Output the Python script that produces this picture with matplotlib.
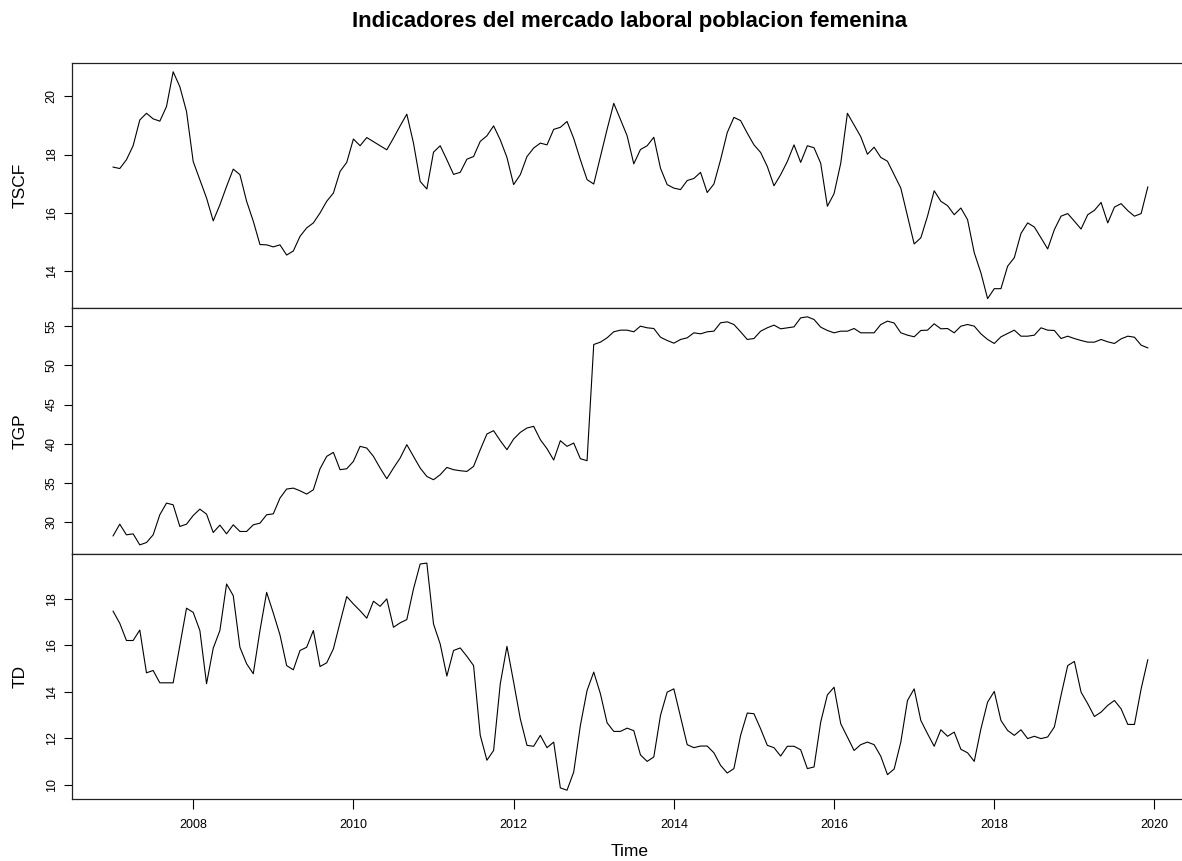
import numpy as np
import matplotlib
matplotlib.use("Agg")
import matplotlib.pyplot as plt
from matplotlib.ticker import MultipleLocator

plt.rcParams['font.family'] = ['Liberation Sans', 'DejaVu Sans']

# Monthly series, Jan 2007 - Dec 2019
start_year = 2007
freq = 12

tscf = [17.57, 17.52, 17.82, 18.30, 19.18, 19.41, 19.22, 19.14, 19.64, 20.83, 20.32, 19.47,
        17.76, 17.14, 16.51, 15.73, 16.28, 16.91, 17.50, 17.31, 16.40, 15.72, 14.92, 14.91,
        14.84, 14.91, 14.56, 14.70, 15.20, 15.49, 15.66, 16.00, 16.40, 16.68, 17.42, 17.73,
        18.53, 18.30, 18.58, 18.44, 18.30, 18.16, 18.56, 18.98, 19.38, 18.39, 17.08, 16.82,
        18.08, 18.30, 17.82, 17.32, 17.39, 17.84, 17.93, 18.45, 18.64, 18.98, 18.50, 17.90,
        16.97, 17.31, 17.93, 18.22, 18.39, 18.33, 18.86, 18.93, 19.13, 18.55, 17.82, 17.14,
        16.99, 17.93, 18.86, 19.75, 19.20, 18.64, 17.68, 18.17, 18.30, 18.59, 17.53, 16.97,
        16.85, 16.80, 17.11, 17.18, 17.39, 16.70, 16.99, 17.82, 18.75, 19.27, 19.16, 18.73,
        18.33, 18.07, 17.59, 16.93, 17.31, 17.76, 18.33, 17.73, 18.30, 18.23, 17.70, 16.23,
        16.66, 17.70, 19.41, 19.01, 18.61, 18.01, 18.25, 17.90, 17.77, 17.31, 16.85, 15.89,
        14.94, 15.15, 15.89, 16.76, 16.40, 16.25, 15.94, 16.17, 15.77, 14.64, 13.95, 13.07,
        13.41, 13.41, 14.18, 14.47, 15.30, 15.66, 15.52, 15.15, 14.77, 15.43, 15.89, 15.98,
        15.72, 15.45, 15.94, 16.09, 16.36, 15.66, 16.20, 16.32, 16.08, 15.89, 15.98, 16.89]

tgp = [28.25, 29.74, 28.38, 28.51, 27.10, 27.40, 28.38, 30.94, 32.43, 32.21, 29.45, 29.74,
       30.85, 31.66, 31.02, 28.68, 29.62, 28.51, 29.66, 28.81, 28.81, 29.66, 29.87, 30.94,
       31.06, 33.07, 34.22, 34.34, 34.00, 33.58, 34.13, 36.81, 38.39, 38.90, 36.69, 36.81,
       37.75, 39.67, 39.45, 38.39, 36.90, 35.54, 36.90, 38.18, 39.88, 38.39, 36.90, 35.83,
       35.41, 36.05, 36.98, 36.69, 36.56, 36.47, 37.11, 39.24, 41.24, 41.67, 40.39, 39.24,
       40.60, 41.45, 42.01, 42.22, 40.52, 39.37, 37.92, 40.39, 39.67, 40.09, 38.09, 37.84,
       52.66, 52.96, 53.51, 54.28, 54.49, 54.49, 54.28, 55.00, 54.79, 54.70, 53.59, 53.17,
       52.83, 53.30, 53.51, 54.15, 54.02, 54.28, 54.36, 55.43, 55.55, 55.21, 54.28, 53.30,
       53.42, 54.36, 54.79, 55.13, 54.66, 54.79, 54.91, 56.06, 56.19, 55.85, 54.87, 54.45,
       54.15, 54.36, 54.36, 54.70, 54.15, 54.15, 54.15, 55.21, 55.64, 55.40, 54.15, 53.85,
       53.64, 54.45, 54.49, 55.30, 54.66, 54.70, 54.15, 55.00, 55.21, 55.00, 54.02, 53.30,
       52.79, 53.64, 54.06, 54.49, 53.72, 53.72, 53.85, 54.79, 54.49, 54.45, 53.42, 53.72,
       53.42, 53.17, 52.96, 52.96, 53.30, 53.00, 52.79, 53.38, 53.72, 53.59, 52.57, 52.23]

td = [17.46, 16.94, 16.20, 16.20, 16.65, 14.81, 14.91, 14.38, 14.38, 14.38, 15.98, 17.59,
      17.41, 16.63, 14.34, 15.87, 16.63, 18.63, 18.13, 15.91, 15.20, 14.77, 16.63, 18.27,
      17.38, 16.44, 15.12, 14.94, 15.77, 15.91, 16.63, 15.08, 15.24, 15.84, 16.98, 18.09,
      17.77, 17.48, 17.16, 17.89, 17.67, 17.99, 16.77, 16.96, 17.10, 18.42, 19.49, 19.53,
      16.91, 16.05, 14.67, 15.77, 15.88, 15.52, 15.12, 12.12, 11.05, 11.47, 14.34, 15.95,
      14.41, 12.83, 11.69, 11.65, 12.12, 11.59, 11.83, 9.86, 9.76, 10.54, 12.55, 14.05,
      14.84, 13.91, 12.66, 12.29, 12.29, 12.43, 12.32, 11.28, 11.00, 11.19, 12.98, 13.98,
      14.12, 12.91, 11.72, 11.59, 11.66, 11.66, 11.37, 10.83, 10.50, 10.69, 12.12, 13.08,
      13.05, 12.40, 11.69, 11.59, 11.23, 11.65, 11.65, 11.50, 10.69, 10.76, 12.69, 13.86,
      14.19, 12.62, 12.05, 11.47, 11.72, 11.83, 11.72, 11.22, 10.43, 10.67, 11.83, 13.62,
      14.12, 12.76, 12.19, 11.65, 12.36, 12.08, 12.26, 11.52, 11.37, 11.00, 12.40, 13.55,
      14.01, 12.76, 12.33, 12.12, 12.36, 11.98, 12.08, 11.98, 12.05, 12.48, 13.84, 15.12,
      15.30, 13.98, 13.48, 12.93, 13.12, 13.41, 13.62, 13.26, 12.59, 12.59, 14.12, 15.37]

series = [("TSCF", tscf, 2), ("TGP", tgp, 5), ("TD", td, 2)]
x_ticks = [2008, 2010, 2012, 2014, 2016, 2018, 2020]

t = start_year + np.arange(len(tscf)) / freq

W, H = 1182, 861
fig = plt.figure(figsize=(W / 100, H / 100), dpi=100)

# panel geometry in pixels (left, top, bottom) -- stacked like plot.ts
left_px, right_px = 71.7, 1189.2
edges = [62.7, 307.7, 554.0, 799.3]

for k, (name, vals, step) in enumerate(series):
    top, bot = edges[k], edges[k + 1]
    ax = fig.add_axes([left_px / W, 1 - bot / H, (right_px - left_px) / W, (bot - top) / H])
    ax.plot(t, vals, color='black', lw=0.8)
    ax.margins(x=0.04, y=0.04)
    ax.yaxis.set_major_locator(MultipleLocator(step))
    ax.tick_params(axis='y', length=6, width=0.8, pad=4, labelsize=9, labelrotation=90)
    for lab in ax.get_yticklabels():
        lab.set_va('center')
    ax.set_ylabel(name, fontsize=12.5, va='center')
    ax.yaxis.set_label_coords((20 - left_px) / (right_px - left_px), 0.5)
    for sp in ax.spines.values():
        sp.set_linewidth(0.9)
        sp.set_color('#222222')
    ax.spines['right'].set_visible(False)
    if k < 2:
        ax.set_xticks([])
    else:
        ax.set_xticks(x_ticks)
        ax.tick_params(axis='x', length=7, width=0.8, pad=7, labelsize=9)

fig.text(630 / W, 1 - 22 / H, "Indicadores del mercado laboral poblacion femenina",
         ha='center', va='center', fontsize=16, fontweight='bold')
fig.text(630 / W, 1 - 851 / H, "Time", ha='center', va='center', fontsize=12.5)

fig.savefig("out.png", dpi=100)
